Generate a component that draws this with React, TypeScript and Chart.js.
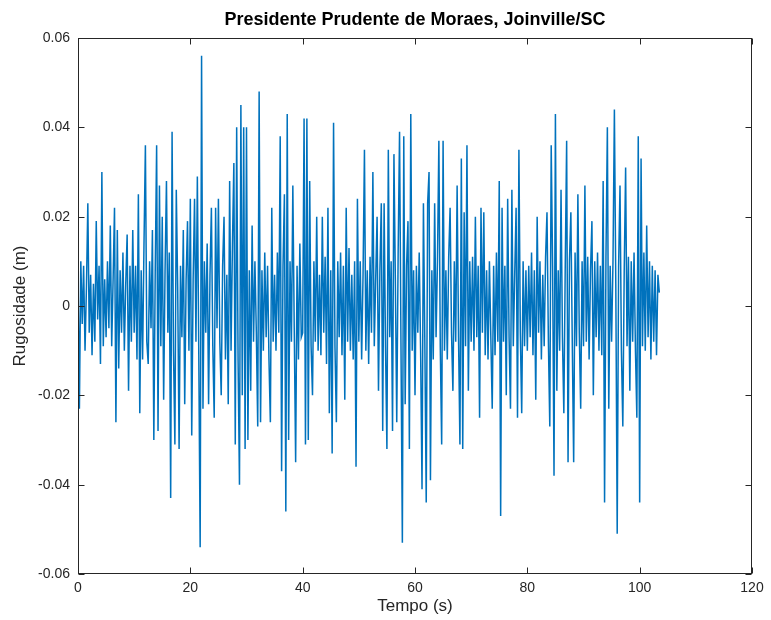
import { useEffect, useRef } from "react";
import { Chart, registerables } from "chart.js";

Chart.register(...registerables);

const titulo = "Presidente Prudente de Moraes, Joinville/SC";
const rotuloX = "Tempo (s)";
const rotuloY = "Rugosidade (m)";

// Sampling interval of the profile, in seconds
const passo = 0.25;

const ticksTempo = [0, 20, 40, 60, 80, 100, 120];
const ticksRugosidade = [-0.06, -0.04, -0.02, 0, 0.02, 0.04, 0.06];

// Road roughness profile in millimetres, one row per 5 s
const rugosidadeMm = [
  8, -23, 10, -4, 9, -10, 4, 23, -6, 7, -11, 5, -8, 19, -3, 9, -13, 30, -9, 6,
  -7, 10, -5, 18, -9, 6, 22, -26, 17, -14, 8, -6, 12, -10, 5, 16, -19, 9, -8, 17,
  -6, 9, -12, 25, -24, 8, -12, 14, 36, -8, -13, 10, -5, 17, -30, 8, 36, -28, 27, -9,
  20, -21, 8, 28, -6, 12, -43, 39, -10, -31, 26, 4, -32, 9, -7, 17, -22, 6, 19, -10,
  24, -29, 6, 24, -8, 29, -10, -54, 56, -23, 10, -6, 14, -22, 7, 22, -9, -25, 22, -5,
  24, -8, -20, 9, 20, -12, 7, -22, 28, -10, 14, 32, -31, 40, -12, -40, 45, -20, 40, -32,
  40, -30, 8, -19, 18, -8, 10, -6, -27, 48, -26, 8, -10, 12, -7, 9, -12, -26, 22, -8,
  7, -10, 12, -6, 38, -37, 9, 25, -46, 43, -30, 10, -8, 27, -5, -35, 9, -12, 14, -7,
  -6, 42, -31, 42, -30, 28, -9, -20, 10, -8, 20, -10, 7, -11, 20, -6, 11, -13, 22, -24,
  8, -33, 41, -9, -26, 10, -7, 12, -11, 9, -21, 22, -8, 13, -10, 7, -12, 10, -36, 24,
  -8, 10, -12, 7, 35, -10, 8, -13, 11, -6, 30, -9, 6, 20, -19, 8, 23, -28, 23, -9,
  -32, 35, -7, 10, -28, 34, 6, -26, 12, 39, -8, -53, 38, -22, 9, 19, -32, 43, -10, 8,
  -20, 9, -6, 12, -10, -41, 23, -8, -44, 23, 30, -39, 8, -12, 23, -7, 10, 37, -9, -31,
  37, -10, 8, -12, 11, 22, -6, -19, 10, -8, 27, -7, -31, 33, -32, 21, -9, 36, -19, 10,
  -8, 11, -10, 20, -7, 9, -25, 22, -6, 21, -11, 8, -12, 10, -7, -23, 9, -11, 12, -8,
  28, -47, 22, -8, 9, -20, 24, -7, -23, 26, -9, 7, 22, -25, 35, -6, -24, 10, -9, 8,
  -10, 9, -7, 12, -11, 8, -21, 20, -6, 10, -12, 7, -9, 11, 21, -8, -27, 36, 9, -38,
  43, -19, 8, -10, 26, -7, -24, 9, 37, -35, 10, 21, -8, -35, 12, -9, 25, -6, -23, 10,
  -9, 27, -8, 11, -12, 8, 19, -20, 10, -7, 12, -10, 9, -11, 28, -44, 11, 40, -23, 9,
  -8, 10, 44, 5, -51, 9, 27, -10, -27, 8, 31, -9, 11, -19, 10, -8, 12, -10, -25, 38,
  -44, 33, -9, 12, -10, 18, -7, 10, -12, 9, -8, 8, -11, 7, 3,
];

const corLinha = "#0072BD";
const corTexto = "#262626";
const fonte = "'Liberation Sans', Arial, Helvetica, sans-serif";

// Full box around the plot with inward-pointing tick marks on all four sides
const caixaPlugin = {
  id: "caixa",
  afterDatasetsDraw(chart: any) {
    const { ctx, chartArea: a, scales } = chart;
    const left = Math.round(a.left) + 0.5;
    const right = Math.round(a.right) - 0.5;
    const top = Math.round(a.top) + 0.5;
    const bottom = Math.round(a.bottom) - 0.5;
    const len = 6;
    ctx.save();
    ctx.strokeStyle = corTexto;
    ctx.lineWidth = 1;
    ctx.strokeRect(left, top, right - left, bottom - top);
    ctx.beginPath();
    for (const v of ticksTempo) {
      const x = Math.round(scales.x.getPixelForValue(v)) + 0.5;
      ctx.moveTo(x, bottom);
      ctx.lineTo(x, bottom - len);
      ctx.moveTo(x, top);
      ctx.lineTo(x, top + len);
    }
    for (const v of ticksRugosidade) {
      const y = Math.round(scales.y.getPixelForValue(v)) + 0.5;
      ctx.moveTo(left, y);
      ctx.lineTo(left + len, y);
      ctx.moveTo(right, y);
      ctx.lineTo(right - len, y);
    }
    ctx.stroke();
    ctx.restore();
  },
};

export default function App() {
  const canvasRef = useRef<HTMLCanvasElement | null>(null);

  useEffect(() => {
    const canvas = canvasRef.current;
    if (!canvas) return;

    const pontos = rugosidadeMm.map((mm, i) => ({ x: i * passo, y: mm / 1000 }));

    const chart = new Chart(canvas, {
      type: "line",
      data: {
        datasets: [
          {
            data: pontos,
            borderColor: corLinha,
            borderWidth: 1.5,
            pointRadius: 0,
            tension: 0,
            fill: false,
          },
        ],
      },
      options: {
        animation: false,
        responsive: false,
        devicePixelRatio: 1,
        parsing: false as any,
        layout: { padding: { left: 0, right: 19, top: 0, bottom: 0 } },
        plugins: {
          legend: { display: false },
          tooltip: { enabled: false },
          title: {
            display: true,
            text: titulo,
            fullSize: false,
            color: "#000",
            font: { family: fonte, size: 18, weight: "bold" },
            padding: { top: 9, bottom: 7.4 },
          },
        },
        scales: {
          x: {
            type: "linear",
            min: 0,
            max: 120,
            grid: { display: false, drawTicks: false },
            border: { display: false },
            afterBuildTicks: (s: any) => {
              s.ticks = ticksTempo.map((value) => ({ value }));
            },
            afterFit: (s: any) => {
              s.height = 46;
            },
            ticks: {
              color: corTexto,
              padding: 6,
              maxRotation: 0,
              font: { family: fonte, size: 14 },
              callback: (v: any) => String(v),
            },
            title: {
              display: true,
              text: rotuloX,
              color: corTexto,
              font: { family: fonte, size: 17 },
              padding: { top: 0, bottom: 3 },
            },
          },
          y: {
            type: "linear",
            min: -0.06,
            max: 0.06,
            grid: { display: false, drawTicks: false },
            border: { display: false },
            afterBuildTicks: (s: any) => {
              s.ticks = ticksRugosidade.map((value) => ({ value }));
            },
            afterFit: (s: any) => {
              s.width = 78;
            },
            ticks: {
              color: corTexto,
              padding: 8,
              font: { family: fonte, size: 14 },
              callback: (v: any) => (Math.abs(Number(v)) < 1e-9 ? "0" : Number(v).toFixed(2)),
            },
            title: {
              display: true,
              text: rotuloY,
              color: corTexto,
              font: { family: fonte, size: 17 },
              padding: { top: 10, bottom: 0 },
            },
          },
        },
      },
      plugins: [caixaPlugin],
    });

    return () => chart.destroy();
  }, []);

  return (
    <div style={{ position: "fixed", left: 0, top: 0, width: 771, height: 620, background: "#fff" }}>
      <canvas ref={canvasRef} width={771} height={620} />
    </div>
  );
}
